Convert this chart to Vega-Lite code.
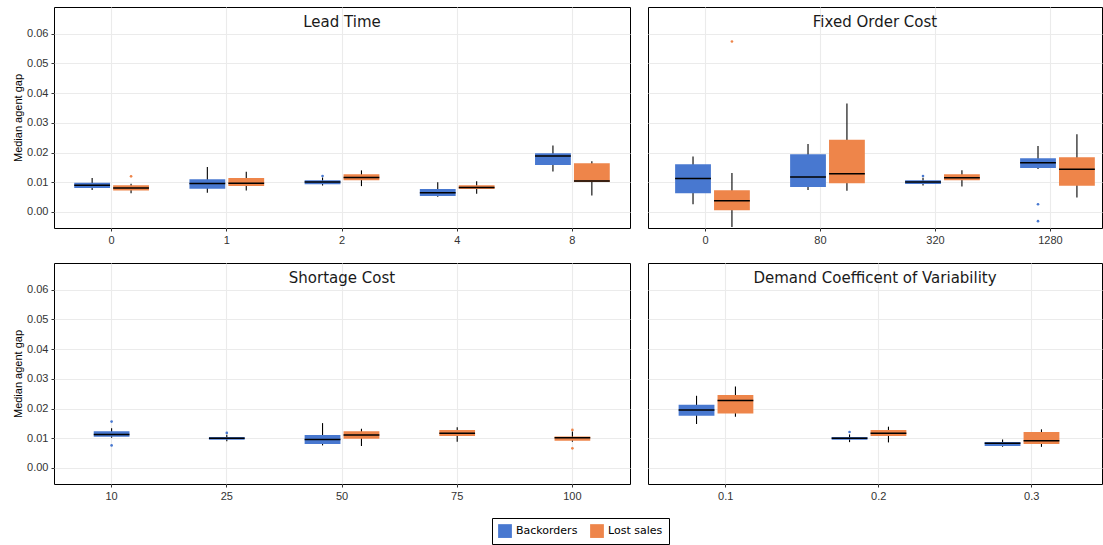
{
  "$schema": "https://vega.github.io/schema/vega-lite/v6.json",
  "padding": {"left": 12, "top": 6, "right": 0, "bottom": 0},
  "config": {
    "view": {"stroke": "black", "strokeWidth": 1},
    "axis": {"domain": false, "gridColor": "#ebebeb", "gridWidth": 1.1, "tickColor": "#333333", "tickSize": 3, "labelFont": "Liberation Sans", "labelFontSize": 11, "labelColor": "#333333", "titleFont": "Liberation Sans", "titleFontSize": 11, "titleFontWeight": "normal", "titleColor": "#000000", "labelOverlap": false},
    "axisY": {"tickCount": 8, "values": [0, 0.01, 0.02, 0.03, 0.04, 0.05, 0.06]},
    "title": {"font": "DejaVu Sans", "fontSize": 15, "fontWeight": "normal", "color": "#1a1a1a", "offset": -23, "baseline": "alphabetic", "anchor": "middle"}
  },
  "datasets": {
    "boxes": [
      {"factor": "Lead Time", "level": 0, "type": "Backorders", "lower": 0.0074, "q1": 0.0081, "median": 0.0090, "q3": 0.0098, "upper": 0.0114},
      {"factor": "Lead Time", "level": 0, "type": "Lost sales", "lower": 0.0063, "q1": 0.0072, "median": 0.0081, "q3": 0.0090, "upper": 0.0095},
      {"factor": "Lead Time", "level": 1, "type": "Backorders", "lower": 0.0065, "q1": 0.0078, "median": 0.0096, "q3": 0.0110, "upper": 0.0151},
      {"factor": "Lead Time", "level": 1, "type": "Lost sales", "lower": 0.0072, "q1": 0.0087, "median": 0.0097, "q3": 0.0114, "upper": 0.0135},
      {"factor": "Lead Time", "level": 2, "type": "Backorders", "lower": 0.0089, "q1": 0.0093, "median": 0.0101, "q3": 0.0107, "upper": 0.0116},
      {"factor": "Lead Time", "level": 2, "type": "Lost sales", "lower": 0.0087, "q1": 0.0107, "median": 0.0116, "q3": 0.0127, "upper": 0.0140},
      {"factor": "Lead Time", "level": 4, "type": "Backorders", "lower": 0.0051, "q1": 0.0054, "median": 0.0065, "q3": 0.0077, "upper": 0.0100},
      {"factor": "Lead Time", "level": 4, "type": "Lost sales", "lower": 0.0061, "q1": 0.0077, "median": 0.0082, "q3": 0.0090, "upper": 0.0103},
      {"factor": "Lead Time", "level": 8, "type": "Backorders", "lower": 0.0136, "q1": 0.0158, "median": 0.0188, "q3": 0.0198, "upper": 0.0224},
      {"factor": "Lead Time", "level": 8, "type": "Lost sales", "lower": 0.0055, "q1": 0.0101, "median": 0.0104, "q3": 0.0164, "upper": 0.0171},
      {"factor": "Fixed Order Cost", "level": 0, "type": "Backorders", "lower": 0.0026, "q1": 0.0063, "median": 0.0113, "q3": 0.0161, "upper": 0.0187},
      {"factor": "Fixed Order Cost", "level": 0, "type": "Lost sales", "lower": -0.0051, "q1": 0.0006, "median": 0.0038, "q3": 0.0073, "upper": 0.0131},
      {"factor": "Fixed Order Cost", "level": 80, "type": "Backorders", "lower": 0.0074, "q1": 0.0084, "median": 0.0118, "q3": 0.0194, "upper": 0.0229},
      {"factor": "Fixed Order Cost", "level": 80, "type": "Lost sales", "lower": 0.0071, "q1": 0.0097, "median": 0.0129, "q3": 0.0243, "upper": 0.0365},
      {"factor": "Fixed Order Cost", "level": 320, "type": "Backorders", "lower": 0.0089, "q1": 0.0094, "median": 0.0101, "q3": 0.0107, "upper": 0.0115},
      {"factor": "Fixed Order Cost", "level": 320, "type": "Lost sales", "lower": 0.0086, "q1": 0.0107, "median": 0.0115, "q3": 0.0127, "upper": 0.0140},
      {"factor": "Fixed Order Cost", "level": 1280, "type": "Backorders", "lower": 0.0145, "q1": 0.0148, "median": 0.0166, "q3": 0.0181, "upper": 0.0222},
      {"factor": "Fixed Order Cost", "level": 1280, "type": "Lost sales", "lower": 0.0049, "q1": 0.0088, "median": 0.0144, "q3": 0.0184, "upper": 0.0262},
      {"factor": "Shortage Cost", "level": 10, "type": "Backorders", "lower": 0.0102, "q1": 0.0105, "median": 0.0113, "q3": 0.0124, "upper": 0.0134},
      {"factor": "Shortage Cost", "level": 25, "type": "Backorders", "lower": 0.0090, "q1": 0.0095, "median": 0.0100, "q3": 0.0104, "upper": 0.0112},
      {"factor": "Shortage Cost", "level": 50, "type": "Backorders", "lower": 0.0076, "q1": 0.0081, "median": 0.0096, "q3": 0.0111, "upper": 0.0151},
      {"factor": "Shortage Cost", "level": 50, "type": "Lost sales", "lower": 0.0074, "q1": 0.0098, "median": 0.0111, "q3": 0.0124, "upper": 0.0132},
      {"factor": "Shortage Cost", "level": 75, "type": "Lost sales", "lower": 0.0088, "q1": 0.0108, "median": 0.0117, "q3": 0.0128, "upper": 0.0137},
      {"factor": "Shortage Cost", "level": 100, "type": "Lost sales", "lower": 0.0088, "q1": 0.0092, "median": 0.0102, "q3": 0.0106, "upper": 0.0123},
      {"factor": "Demand Coefficent of Variability", "level": 0.1, "type": "Backorders", "lower": 0.0148, "q1": 0.0176, "median": 0.0195, "q3": 0.0213, "upper": 0.0243},
      {"factor": "Demand Coefficent of Variability", "level": 0.1, "type": "Lost sales", "lower": 0.0172, "q1": 0.0183, "median": 0.0227, "q3": 0.0246, "upper": 0.0274},
      {"factor": "Demand Coefficent of Variability", "level": 0.2, "type": "Backorders", "lower": 0.0087, "q1": 0.0095, "median": 0.0100, "q3": 0.0104, "upper": 0.0113},
      {"factor": "Demand Coefficent of Variability", "level": 0.2, "type": "Lost sales", "lower": 0.0086, "q1": 0.0108, "median": 0.0117, "q3": 0.0128, "upper": 0.0139},
      {"factor": "Demand Coefficent of Variability", "level": 0.3, "type": "Backorders", "lower": 0.0071, "q1": 0.0074, "median": 0.0083, "q3": 0.0087, "upper": 0.0096},
      {"factor": "Demand Coefficent of Variability", "level": 0.3, "type": "Lost sales", "lower": 0.0071, "q1": 0.0081, "median": 0.0092, "q3": 0.0121, "upper": 0.0130}
    ],
    "outliers": [
      {"factor": "Lead Time", "level": 0, "type": "Lost sales", "value": 0.0120},
      {"factor": "Lead Time", "level": 2, "type": "Backorders", "value": 0.0121},
      {"factor": "Fixed Order Cost", "level": 0, "type": "Lost sales", "value": 0.0574},
      {"factor": "Fixed Order Cost", "level": 320, "type": "Backorders", "value": 0.0121},
      {"factor": "Fixed Order Cost", "level": 1280, "type": "Backorders", "value": 0.0026},
      {"factor": "Fixed Order Cost", "level": 1280, "type": "Backorders", "value": -0.0031},
      {"factor": "Shortage Cost", "level": 10, "type": "Backorders", "value": 0.0156},
      {"factor": "Shortage Cost", "level": 10, "type": "Backorders", "value": 0.0076},
      {"factor": "Shortage Cost", "level": 25, "type": "Backorders", "value": 0.0118},
      {"factor": "Shortage Cost", "level": 100, "type": "Lost sales", "value": 0.0128},
      {"factor": "Shortage Cost", "level": 100, "type": "Lost sales", "value": 0.0066},
      {"factor": "Demand Coefficent of Variability", "level": 0.2, "type": "Backorders", "value": 0.0121}
    ]
  },
  "columns": 2,
  "spacing": {"row": 16, "column": 16},
  "resolve": {"scale": {"color": "shared"}, "legend": {"color": "shared"}},
  "concat": [
    {
      "width": 576, "height": 221,
      "title": {"text": "Lead Time"},
      "encoding": {
        "x": {"field": "level", "type": "ordinal", "title": null, "scale": {"paddingInner": 0, "paddingOuter": 0}, "axis": {"grid": true, "labelAngle": 0, "labelPadding": 3}},
        "xOffset": {"field": "type", "type": "nominal", "scale": {"domain": ["Backorders", "Lost sales"], "paddingInner": 0.08, "paddingOuter": 0.52}}
      },
      "layer": [
        {"data": {"name": "boxes"}, "transform": [{"filter": "datum.factor === 'Lead Time'"}],
         "mark": {"type": "rule", "color": "black", "strokeWidth": 1.1},
         "encoding": {"y": {"field": "lower", "type": "quantitative", "scale": {"domain": [-0.0054, 0.069], "nice": false, "zero": false}, "axis": {"values": [0, 0.01, 0.02, 0.03, 0.04, 0.05, 0.06], "format": ".2f", "title": "Median agent gap", "titlePadding": 3, "labelPadding": 3}}, "y2": {"field": "upper"}}},
        {"data": {"name": "boxes"}, "transform": [{"filter": "datum.factor === 'Lead Time'"}],
         "mark": {"type": "bar", "opacity": 1},
         "encoding": {"y": {"field": "q1", "type": "quantitative"}, "y2": {"field": "q3"},
           "color": {"field": "type", "type": "nominal", "scale": {"domain": ["Backorders", "Lost sales"], "range": ["#4878d0", "#ee854a"]}, "legend": {"title": null, "orient": "none", "direction": "horizontal", "legendX": 438, "legendY": 511, "symbolType": "square", "symbolSize": 190, "symbolStrokeWidth": 0, "symbolOpacity": 1, "labelFont": "DejaVu Sans", "labelFontSize": 11, "labelColor": "black", "columnPadding": 12, "strokeColor": "black", "padding": 6, "labelOffset": 4}}}},
        {"data": {"name": "boxes"}, "transform": [{"filter": "datum.factor === 'Lead Time'"}],
         "mark": {"type": "bar", "stroke": "black", "strokeWidth": 1.5, "fillOpacity": 0},
         "encoding": {"y": {"field": "median", "type": "quantitative"}, "y2": {"field": "median"}}},
        {"data": {"name": "outliers"}, "transform": [{"filter": "datum.factor === 'Lead Time'"}],
         "mark": {"type": "circle", "size": 7, "opacity": 1},
         "encoding": {"y": {"field": "value", "type": "quantitative"}, "color": {"field": "type", "type": "nominal"}}}
      ]
    },
    {
      "width": 454, "height": 221,
      "title": {"text": "Fixed Order Cost"},
      "encoding": {
        "x": {"field": "level", "type": "ordinal", "title": null, "scale": {"paddingInner": 0.12, "paddingOuter": 0.034, "align": 0.88}, "axis": {"grid": true, "labelAngle": 0, "labelPadding": 3}},
        "xOffset": {"field": "type", "type": "nominal", "scale": {"domain": ["Backorders", "Lost sales"], "paddingInner": 0.08, "paddingOuter": 0.339}}
      },
      "layer": [
        {"data": {"name": "boxes"}, "transform": [{"filter": "datum.factor === 'Fixed Order Cost'"}],
         "mark": {"type": "rule", "color": "black", "strokeWidth": 1.1},
         "encoding": {"y": {"field": "lower", "type": "quantitative", "scale": {"domain": [-0.0054, 0.069], "nice": false, "zero": false}, "axis": {"values": [0, 0.01, 0.02, 0.03, 0.04, 0.05, 0.06], "labels": false, "ticks": false, "title": null}}, "y2": {"field": "upper"}}},
        {"data": {"name": "boxes"}, "transform": [{"filter": "datum.factor === 'Fixed Order Cost'"}],
         "mark": {"type": "bar", "opacity": 1},
         "encoding": {"y": {"field": "q1", "type": "quantitative"}, "y2": {"field": "q3"}, "color": {"field": "type", "type": "nominal"}}},
        {"data": {"name": "boxes"}, "transform": [{"filter": "datum.factor === 'Fixed Order Cost'"}],
         "mark": {"type": "bar", "stroke": "black", "strokeWidth": 1.5, "fillOpacity": 0},
         "encoding": {"y": {"field": "median", "type": "quantitative"}, "y2": {"field": "median"}}},
        {"data": {"name": "outliers"}, "transform": [{"filter": "datum.factor === 'Fixed Order Cost'"}],
         "mark": {"type": "circle", "size": 7, "opacity": 1},
         "encoding": {"y": {"field": "value", "type": "quantitative"}, "color": {"field": "type", "type": "nominal"}}}
      ]
    },
    {
      "width": 576, "height": 221,
      "title": {"text": "Shortage Cost"},
      "encoding": {
        "x": {"field": "level", "type": "ordinal", "title": null, "scale": {"paddingInner": 0, "paddingOuter": 0}, "axis": {"grid": true, "labelAngle": 0, "labelPadding": 3}}
      },
      "layer": [
        {"data": {"name": "boxes"}, "transform": [{"filter": "datum.factor === 'Shortage Cost'"}, {"joinaggregate": [{"op": "count", "as": "n"}], "groupby": ["level"]}, {"filter": "datum.n > 1"}],
         "mark": {"type": "rule", "color": "black", "strokeWidth": 1.1},
         "encoding": {"xOffset": {"field": "type", "type": "nominal", "scale": {"domain": ["Backorders", "Lost sales"], "paddingInner": 0.08, "paddingOuter": 0.52}}, "y": {"field": "lower", "type": "quantitative", "scale": {"domain": [-0.0054, 0.069], "nice": false, "zero": false}, "axis": {"values": [0, 0.01, 0.02, 0.03, 0.04, 0.05, 0.06], "format": ".2f", "title": "Median agent gap", "titlePadding": 3, "labelPadding": 3}}, "y2": {"field": "upper"}}},
        {"data": {"name": "boxes"}, "transform": [{"filter": "datum.factor === 'Shortage Cost'"}, {"joinaggregate": [{"op": "count", "as": "n"}], "groupby": ["level"]}, {"filter": "datum.n > 1"}],
         "mark": {"type": "bar", "opacity": 1},
         "encoding": {"xOffset": {"field": "type", "type": "nominal"}, "y": {"field": "q1", "type": "quantitative"}, "y2": {"field": "q3"}, "color": {"field": "type", "type": "nominal"}}},
        {"data": {"name": "boxes"}, "transform": [{"filter": "datum.factor === 'Shortage Cost'"}, {"joinaggregate": [{"op": "count", "as": "n"}], "groupby": ["level"]}, {"filter": "datum.n > 1"}],
         "mark": {"type": "bar", "stroke": "black", "strokeWidth": 1.5, "fillOpacity": 0},
         "encoding": {"xOffset": {"field": "type", "type": "nominal"}, "y": {"field": "median", "type": "quantitative"}, "y2": {"field": "median"}}},
        {"data": {"name": "boxes"}, "transform": [{"filter": "datum.factor === 'Shortage Cost'"}, {"joinaggregate": [{"op": "count", "as": "n"}], "groupby": ["level"]}, {"filter": "datum.n === 1"}],
         "mark": {"type": "rule", "color": "black", "strokeWidth": 1.1},
         "encoding": {"y": {"field": "lower", "type": "quantitative"}, "y2": {"field": "upper"}}},
        {"data": {"name": "boxes"}, "transform": [{"filter": "datum.factor === 'Shortage Cost'"}, {"joinaggregate": [{"op": "count", "as": "n"}], "groupby": ["level"]}, {"filter": "datum.n === 1"}],
         "mark": {"type": "bar", "opacity": 1, "width": {"band": 0.31}},
         "encoding": {"y": {"field": "q1", "type": "quantitative"}, "y2": {"field": "q3"}, "color": {"field": "type", "type": "nominal"}}},
        {"data": {"name": "boxes"}, "transform": [{"filter": "datum.factor === 'Shortage Cost'"}, {"joinaggregate": [{"op": "count", "as": "n"}], "groupby": ["level"]}, {"filter": "datum.n === 1"}],
         "mark": {"type": "bar", "stroke": "black", "strokeWidth": 1.5, "fillOpacity": 0, "width": {"band": 0.31}},
         "encoding": {"y": {"field": "median", "type": "quantitative"}, "y2": {"field": "median"}}},
        {"data": {"name": "outliers"}, "transform": [{"filter": "datum.factor === 'Shortage Cost'"}],
         "mark": {"type": "circle", "size": 7, "opacity": 1},
         "encoding": {"y": {"field": "value", "type": "quantitative"}, "color": {"field": "type", "type": "nominal"}}}
      ]
    },
    {
      "width": 454, "height": 221,
      "title": {"text": "Demand Coefficent of Variability"},
      "encoding": {
        "x": {"field": "level", "type": "ordinal", "title": null, "scale": {"paddingInner": 0.12, "paddingOuter": 0.0435, "align": 0.78}, "axis": {"grid": true, "labelAngle": 0, "labelPadding": 3}},
        "xOffset": {"field": "type", "type": "nominal", "scale": {"domain": ["Backorders", "Lost sales"], "paddingInner": 0.08, "paddingOuter": 0.339}}
      },
      "layer": [
        {"data": {"name": "boxes"}, "transform": [{"filter": "datum.factor === 'Demand Coefficent of Variability'"}],
         "mark": {"type": "rule", "color": "black", "strokeWidth": 1.1},
         "encoding": {"y": {"field": "lower", "type": "quantitative", "scale": {"domain": [-0.0054, 0.069], "nice": false, "zero": false}, "axis": {"values": [0, 0.01, 0.02, 0.03, 0.04, 0.05, 0.06], "labels": false, "ticks": false, "title": null}}, "y2": {"field": "upper"}}},
        {"data": {"name": "boxes"}, "transform": [{"filter": "datum.factor === 'Demand Coefficent of Variability'"}],
         "mark": {"type": "bar", "opacity": 1},
         "encoding": {"y": {"field": "q1", "type": "quantitative"}, "y2": {"field": "q3"}, "color": {"field": "type", "type": "nominal"}}},
        {"data": {"name": "boxes"}, "transform": [{"filter": "datum.factor === 'Demand Coefficent of Variability'"}],
         "mark": {"type": "bar", "stroke": "black", "strokeWidth": 1.5, "fillOpacity": 0},
         "encoding": {"y": {"field": "median", "type": "quantitative"}, "y2": {"field": "median"}}},
        {"data": {"name": "outliers"}, "transform": [{"filter": "datum.factor === 'Demand Coefficent of Variability'"}],
         "mark": {"type": "circle", "size": 7, "opacity": 1},
         "encoding": {"y": {"field": "value", "type": "quantitative"}, "color": {"field": "type", "type": "nominal"}}}
      ]
    }
  ]
}
